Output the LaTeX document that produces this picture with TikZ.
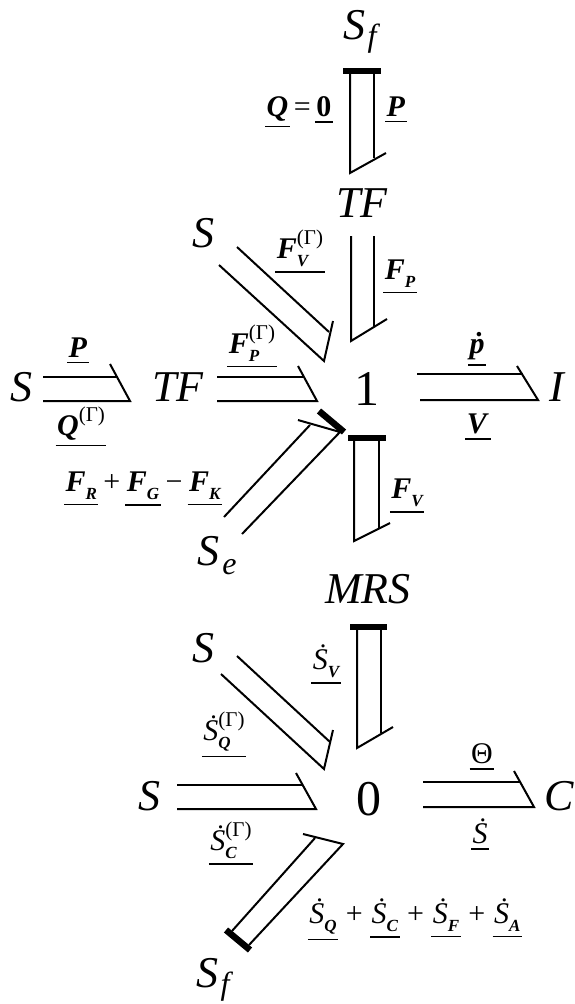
\documentclass[tikz,border=0pt]{standalone}
\usepackage{fontspec}
\setmainfont{Liberation Serif}
\usetikzlibrary{positioning}
\newcommand{\fs}[1]{\fontsize{#1}{#1}\selectfont}
\newcommand{\ul}[1]{\vtop{\hbox{\kern1.5pt#1\kern1.5pt}\kern5pt\hrule height 1.4pt}}
\newcommand{\bi}[1]{\textbf{\textit{#1}}}
\newcommand{\lo}[1]{\raisebox{-8pt}{\fs{17}\bfseries\itshape #1}}
\newcommand{\gam}{\raisebox{14pt}{\fs{21}(Γ)}}
\newcommand{\Sd}{\textit{\.S}}
\tikzset{
    bond/.style={line width=2pt},
    bar/.style={line width=6.5pt},
    big/.style={font=\fs{44}\itshape, anchor=base, inner sep=0pt},
    junction/.style={font=\fs{50}, anchor=base, inner sep=0pt},
    lbl/.style={font=\fs{30}, anchor=base, inner sep=0pt},
}
\begin{document}
\begin{tikzpicture}[x=1pt, y=-1pt]
    \useasboundingbox (0,0) rectangle (575,1004);

    % elements
    \node[big] (sfTop) at (360,39) {S\kern2pt\raisebox{-7pt}{\fs{32}f}};
    \node[big] (tfTop) at (362,217) {TF};
    \node[big] (sA) at (203,247) {S};
    \node[big] (sB) at (21,401) {S};
    \node[big] (tfLeft) at (178,401) {TF};
    \node[junction] (one) at (367,405) {1};
    \node[big] (inert) at (557,401) {I};
    \node[big] (se) at (217,565) {S\kern3pt\raisebox{-9pt}{\fs{32}e}};
    \node[big] (mrs) at (368,603) {MRS};
    \node[big] (sC) at (203,662) {S};
    \node[big] (sD) at (149,810) {S};
    \node[junction] (zero) at (369,815) {0};
    \node[big] (cap) at (559,810) {C};
    \node[big] (sfBot) at (213,987) {S\kern2pt\raisebox{-7pt}{\fs{32}f}};

    % Sf -> TF
    \coordinate (b1p) at (343,71); \coordinate (b1q) at (381,71);
    \coordinate (b1a) at (350,71); \coordinate (b1b) at (350,173);
    \coordinate (b1c) at (386,153);
    \coordinate (b1d) at (374,71); \coordinate (b1e) at (374,158);
    \draw[bond] (b1a) -- (b1b) -- (b1c);
    \draw[bond] (b1d) -- (b1e);
    \draw[bar] (b1p) -- (b1q);

    % TF -> 1
    \coordinate (b2a) at (351,236); \coordinate (b2b) at (351,341);
    \coordinate (b2c) at (387,319);
    \coordinate (b2d) at (374,236); \coordinate (b2e) at (374,326);
    \draw[bond] (b2a) -- (b2b) -- (b2c);
    \draw[bond] (b2d) -- (b2e);

    % S -> 1
    \coordinate (b3a) at (219,265); \coordinate (b3b) at (324,361);
    \coordinate (b3c) at (333,321);
    \coordinate (b3d) at (237,247); \coordinate (b3e) at (329,332);
    \draw[bond] (b3a) -- (b3b) -- (b3c);
    \draw[bond] (b3d) -- (b3e);

    % S -> TF
    \coordinate (b4a) at (43,401); \coordinate (b4b) at (130,401);
    \coordinate (b4c) at (110,364);
    \coordinate (b4d) at (43,377); \coordinate (b4e) at (117,377);
    \draw[bond] (b4a) -- (b4b) -- (b4c);
    \draw[bond] (b4d) -- (b4e);

    % TF -> 1
    \coordinate (b5a) at (217,401); \coordinate (b5b) at (317,401);
    \coordinate (b5c) at (298,366);
    \coordinate (b5d) at (217,377); \coordinate (b5e) at (304,377);
    \draw[bond] (b5a) -- (b5b) -- (b5c);
    \draw[bond] (b5d) -- (b5e);

    % 1 -> I
    \coordinate (b6a) at (420,400); \coordinate (b6b) at (538,400);
    \coordinate (b6c) at (517,366);
    \coordinate (b6d) at (417,374); \coordinate (b6e) at (523,374);
    \draw[bond] (b6a) -- (b6b) -- (b6c);
    \draw[bond] (b6d) -- (b6e);

    % Se -> 1
    \coordinate (b7p) at (319,411); \coordinate (b7q) at (344,432);
    \coordinate (b7a) at (242,534); \coordinate (b7b) at (340,432);
    \coordinate (b7c) at (298,420);
    \coordinate (b7d) at (224,517); \coordinate (b7e) at (310,425);
    \draw[bond] (b7a) -- (b7b) -- (b7c);
    \draw[bond] (b7d) -- (b7e);
    \draw[bar] (b7p) -- (b7q);

    % 1 -> MRS
    \coordinate (b8p) at (348,438); \coordinate (b8q) at (386,438);
    \coordinate (b8a) at (354,438); \coordinate (b8b) at (354,541);
    \coordinate (b8c) at (390,523);
    \coordinate (b8d) at (379,438); \coordinate (b8e) at (379,528);
    \draw[bond] (b8a) -- (b8b) -- (b8c);
    \draw[bond] (b8d) -- (b8e);
    \draw[bar] (b8p) -- (b8q);

    % MRS -> 0
    \coordinate (b9p) at (350,627); \coordinate (b9q) at (387,627);
    \coordinate (b9a) at (357,627); \coordinate (b9b) at (357,748);
    \coordinate (b9c) at (393,727);
    \coordinate (b9d) at (381,627); \coordinate (b9e) at (381,733);
    \draw[bond] (b9a) -- (b9b) -- (b9c);
    \draw[bond] (b9d) -- (b9e);
    \draw[bar] (b9p) -- (b9q);

    % S -> 0
    \coordinate (b10a) at (221,674); \coordinate (b10b) at (324,769);
    \coordinate (b10c) at (333,730);
    \coordinate (b10d) at (237,656); \coordinate (b10e) at (330,742);
    \draw[bond] (b10a) -- (b10b) -- (b10c);
    \draw[bond] (b10d) -- (b10e);

    % S -> 0
    \coordinate (b11a) at (177,809); \coordinate (b11b) at (316,809);
    \coordinate (b11c) at (296,773);
    \coordinate (b11d) at (177,785); \coordinate (b11e) at (302,785);
    \draw[bond] (b11a) -- (b11b) -- (b11c);
    \draw[bond] (b11d) -- (b11e);

    % 0 -> C
    \coordinate (b12a) at (423,807); \coordinate (b12b) at (534,807);
    \coordinate (b12c) at (514,771);
    \coordinate (b12d) at (423,782); \coordinate (b12e) at (520,782);
    \draw[bond] (b12a) -- (b12b) -- (b12c);
    \draw[bond] (b12d) -- (b12e);

    % Sf -> 0
    \coordinate (b13p) at (226,930); \coordinate (b13q) at (250,950);
    \coordinate (b13a) at (249,945); \coordinate (b13b) at (343,844);
    \coordinate (b13c) at (303,834);
    \coordinate (b13d) at (232,931); \coordinate (b13e) at (315,838);
    \draw[bond] (b13a) -- (b13b) -- (b13c);
    \draw[bond] (b13d) -- (b13e);
    \draw[bar] (b13p) -- (b13q);

    % labels
    \node[lbl] (lQzero) at (299,116) {\ul{\bi{Q}}\kern4pt=\kern4pt\ul{\textbf{0}}};
    \node[lbl] (lPtop) at (396,116) {\ul{\bi{P}}};
    \node[lbl] (lFvg) at (300,258) {\ul{\bi{F}\rlap{\lo{V}}\gam}};
    \node[lbl] (lFp) at (400,279) {\ul{\bi{F}\lo{P}}};
    \node[lbl] (lFpg) at (252,353) {\ul{\bi{F}\rlap{\lo{P}}\gam}};
    \node[lbl] (lPleft) at (78,357) {\ul{\bi{P}}};
    \node[lbl] (lQg) at (81,435) {\ul{\bi{Q}\gam}};
    \node[lbl] (lFsum) at (143,491)
        {\ul{\bi{F}\lo{R}}\kern5pt+\kern5pt\ul{\bi{F}\lo{G}}\kern5pt−\kern5pt\ul{\bi{F}\lo{K}}};
    \node[lbl] (lpdot) at (477,353) {\ul{\bi{\.p}}};
    \node[lbl] (lV) at (478,433) {\ul{\bi{V}}};
    \node[lbl] (lFv) at (407,498) {\ul{\bi{F}\lo{V}}};
    \node[lbl] (lSv) at (326,669) {\ul{\Sd\lo{V}}};
    \node[lbl] (lSqg) at (224,740) {\ul{\Sd\rlap{\lo{Q}}\gam}};
    \node[lbl] (lScg) at (231,850) {\ul{\Sd\rlap{\lo{C}}\gam}};
    \node[lbl] (lTheta) at (482,763) {\ul{Θ}};
    \node[lbl] (lSdot) at (480,843) {\ul{\Sd}};
    \node[lbl] (lSsum) at (415,923)
        {\ul{\Sd\lo{Q}} + \ul{\Sd\lo{C}} + \ul{\Sd\lo{F}} + \ul{\Sd\lo{A}}};

\end{tikzpicture}
\end{document}
